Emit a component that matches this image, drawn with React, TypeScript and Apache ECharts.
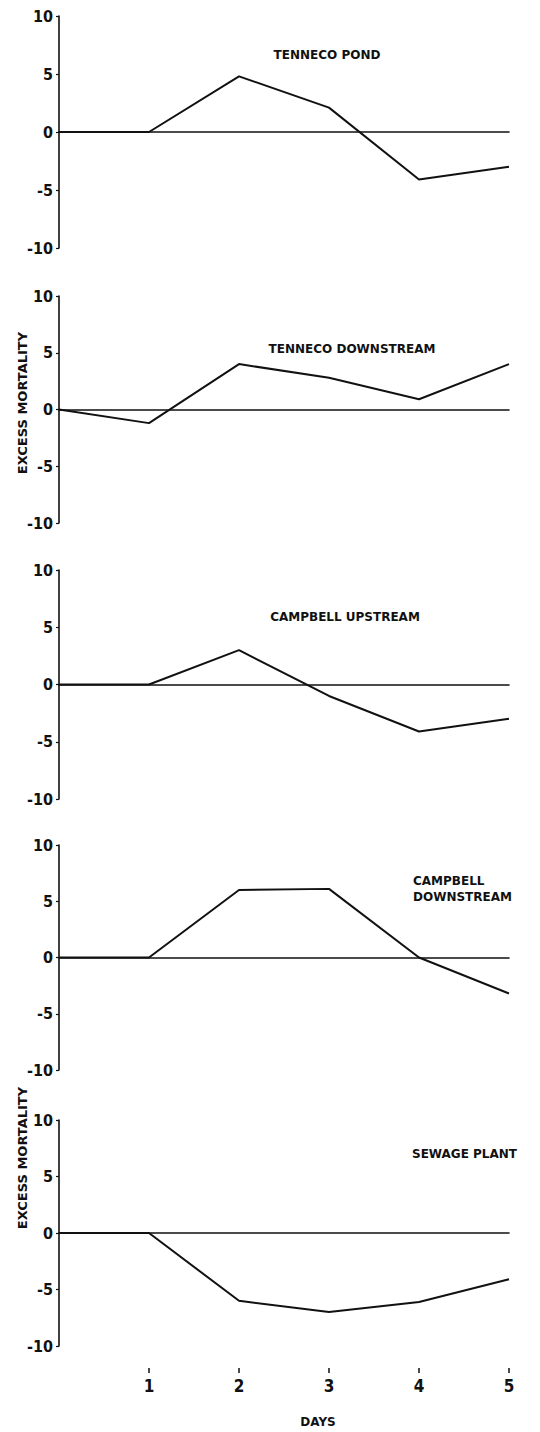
import React, { useEffect, useRef } from "react";
import * as echarts from "echarts";

// Days after exposure (x) and excess mortality for each site
const days = [0, 1, 2, 3, 4, 5];
const tennecoPond = [0, 0, 4.8, 2.1, -4.1, -3.0];
const tennecoDownstream = [0, -1.2, 4.0, 2.8, 0.9, 4.0];
const campbellUpstream = [0, 0, 3.0, -1.0, -4.1, -3.0];
const campbellDownstream = [0, 0, 6.0, 6.1, 0, -3.2];
const sewagePlant = [0, 0, -6.0, -7.0, -6.1, -4.1];

const siteNames = [
  "TENNECO POND",
  "TENNECO DOWNSTREAM",
  "CAMPBELL UPSTREAM",
  "CAMPBELL\nDOWNSTREAM",
  "SEWAGE PLANT",
];
const yTicks = [-10, -5, 0, 5, 10];
const dayTicks = [1, 2, 3, 4, 5];
const yAxisTitle = "EXCESS MORTALITY";
const xAxisTitle = "DAYS";

const seriesValues = [
  tennecoPond,
  tennecoDownstream,
  campbellUpstream,
  campbellDownstream,
  sewagePlant,
];

// panel layout: top (value 10) and bottom (value -10) pixel rows
const panels = [
  { top: 16, bottom: 248 },
  { top: 296, bottom: 523 },
  { top: 570, bottom: 799 },
  { top: 845, bottom: 1070 },
  { top: 1120, bottom: 1346 },
];
const titlePos = [
  { x: 327, y: 55, align: "center" },
  { x: 352, y: 349, align: "center" },
  { x: 345, y: 617, align: "center" },
  { x: 413, y: 889, align: "left" },
  { x: 412, y: 1154, align: "left" },
];

const W = 540;
const H = 1432;
const LEFT = 59;
const RIGHT = 31;
const INK = "#111";
const NUM_FONT = "'DejaVu Sans Condensed', 'DejaVu Sans', sans-serif";
const TEXT_FONT = "'DejaVu Sans', sans-serif";

export default function App() {
  const ref = useRef<HTMLDivElement>(null);

  useEffect(() => {
    document.body.style.margin = "0";
    const chart = echarts.init(ref.current!, null, { renderer: "svg" });

    const grid = panels.map((p) => ({
      left: LEFT,
      right: RIGHT,
      top: p.top,
      height: p.bottom - p.top,
    }));

    const xAxis: any[] = panels.map((_, i) => ({
      type: "value",
      gridIndex: i,
      min: 0,
      max: 5,
      interval: 1,
      position: "bottom",
      axisLine: { show: true, onZero: true, lineStyle: { color: INK, width: 1.6 } },
      axisTick: { show: false },
      axisLabel: { show: false },
      splitLine: { show: false },
    }));
    // day labels below the last panel
    xAxis.push({
      type: "value",
      gridIndex: 4,
      min: 0,
      max: 5,
      interval: 1,
      position: "bottom",
      offset: 22,
      axisLine: { show: false, onZero: false },
      axisTick: {
        show: true,
        length: 5,
        customValues: dayTicks,
        lineStyle: { color: INK, width: 1.5 },
      },
      axisLabel: {
        show: true,
        color: INK,
        fontSize: 17,
        fontWeight: "bold",
        fontFamily: NUM_FONT,
        margin: 9,
        customValues: dayTicks,
        formatter: (v: number) => String(v),
      },
      splitLine: { show: false },
    });

    const yAxis = panels.map((_, i) => ({
      type: "value",
      gridIndex: i,
      min: -10,
      max: 10,
      interval: 5,
      axisLine: { show: true, onZero: false, lineStyle: { color: INK, width: 1.6 } },
      axisTick: { show: true, length: 3, lineStyle: { color: INK, width: 1.2 } },
      axisLabel: {
        color: INK,
        fontSize: 16,
        fontWeight: "bold",
        fontFamily: NUM_FONT,
        margin: 6,
        formatter: (v: number) => (yTicks.includes(v) ? String(v) : ""),
      },
      splitLine: { show: false },
    }));

    const series = seriesValues.map((vals, i) => ({
      type: "line",
      xAxisIndex: i,
      yAxisIndex: i,
      data: days.map((d, k) => [d, vals[k]]),
      showSymbol: false,
      symbol: "none",
      lineStyle: { color: INK, width: 2 },
    }));

    const titleStyle = {
      fill: INK,
      fontSize: 12,
      fontWeight: "bold",
      fontFamily: TEXT_FONT,
    };

    const graphic: any[] = siteNames.map((name, i) => ({
      type: "text",
      x: titlePos[i].x,
      y: titlePos[i].y,
      style: {
        ...titleStyle,
        text: name,
        align: titlePos[i].align,
        verticalAlign: "middle",
        lineHeight: 16,
      },
    }));
    [403, 1158].forEach((cy) => {
      graphic.push({
        type: "text",
        x: 22,
        y: cy,
        rotation: Math.PI / 2,
        style: {
          ...titleStyle,
          fontSize: 13,
          text: yAxisTitle,
          align: "center",
          verticalAlign: "middle",
        },
      });
    });
    graphic.push({
      type: "text",
      x: 318,
      y: 1422,
      style: { ...titleStyle, text: xAxisTitle, align: "center", verticalAlign: "middle" },
    });

    chart.setOption({
      animation: false,
      backgroundColor: "#fff",
      grid,
      xAxis,
      yAxis,
      series,
      graphic,
    });

    return () => chart.dispose();
  }, []);

  return <div ref={ref} style={{ width: W, height: H }} />;
}
